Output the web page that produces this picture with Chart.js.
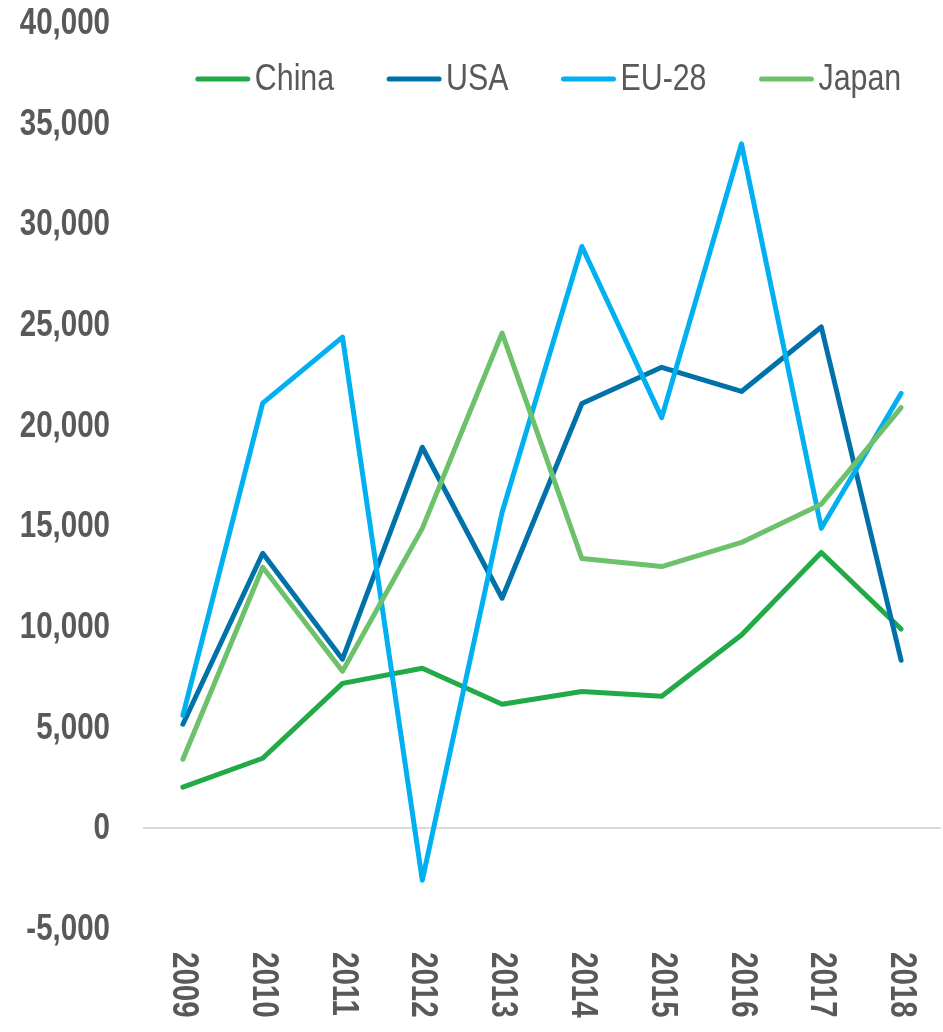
<!DOCTYPE html>
<html>
<head>
<meta charset="utf-8">
<script src="https://cdn.jsdelivr.net/npm/chart.js@4.4.1/dist/chart.umd.min.js"></script>
<style>
	html, body { margin: 0; padding: 0; background: #fff; }
	#wrap { position: relative; width: 943px; height: 1032px; }
</style>
</head>
<body>
<div id="wrap"><canvas id="chart"></canvas></div>
<script>
// data
const years = ['2009', '2010', '2011', '2012', '2013', '2014', '2015', '2016', '2017', '2018'];
const china = [2050, 3480, 7200, 7950, 6160, 6800, 6560, 9600, 13700, 9900];
const usa = [5170, 13660, 8400, 18930, 11430, 21100, 22900, 21700, 24900, 8350];
const eu28 = [5610, 21120, 24400, -2580, 15700, 28900, 20400, 34000, 14900, 21600];
const japan = [3430, 12970, 7800, 14900, 24600, 13400, 13000, 14200, 16100, 20900];
const yMin = -5000;
const yMax = 40000;
const yStep = 5000;

// no narrow font installed, so squeeze Liberation Sans like Arial Narrow
const FONT = "'Liberation Sans', Arial, sans-serif";
const NARROW = 0.82;
const TEXT = '#595959';

function narrowText(ctx, text, x, y, align) {
	ctx.save();
	ctx.translate(x, y);
	ctx.scale(NARROW, 1);
	ctx.textAlign = align;
	ctx.fillText(text, 0, 0);
	ctx.restore();
}

// legend drawn inside the plot, like the original
const legendInPlot = {
	id: 'legendInPlot',
	afterDraw(chart) {
		const ctx = chart.ctx;
		const area = chart.chartArea;
		const markW = 56, gap = 4, itemGap = 52;
		ctx.save();
		ctx.font = '37px ' + FONT;
		ctx.textBaseline = 'middle';
		const items = chart.data.datasets.map(ds => {
			const w = markW + gap + ctx.measureText(ds.label).width * NARROW;
			return { label: ds.label, color: ds.borderColor, w: w };
		});
		const total = items.reduce((s, it) => s + it.w, 0) + itemGap * (items.length - 1);
		let x = (area.left + area.right) / 2 - total / 2 + 6;
		const y = 79;
		items.forEach(it => {
			ctx.strokeStyle = it.color;
			ctx.lineWidth = 5;
			ctx.lineCap = 'round';
			ctx.beginPath();
			ctx.moveTo(x + 3, y);
			ctx.lineTo(x + markW - 3, y);
			ctx.stroke();
			ctx.fillStyle = TEXT;
			narrowText(ctx, it.label, x + markW + gap, y + 1, 'left');
			x += it.w + itemGap;
		});
		ctx.restore();
	}
};

// axis labels: y values right aligned, years read top-to-bottom
const axisLabels = {
	id: 'axisLabels',
	afterDraw(chart) {
		const ctx = chart.ctx;
		const xs = chart.scales.x;
		const ys = chart.scales.y;
		ctx.save();
		ctx.font = 'bold 36px ' + FONT;
		ctx.fillStyle = TEXT;
		ctx.textBaseline = 'middle';
		ys.ticks.forEach(t => {
			const py = ys.getPixelForValue(t.value);
			narrowText(ctx, t.value.toLocaleString('en-US'), chart.chartArea.left - 33, py + 1, 'right');
		});
		years.forEach((lbl, i) => {
			const px = xs.getPixelForTick(i);
			ctx.save();
			ctx.translate(px, chart.chartArea.bottom + 23);
			ctx.rotate(Math.PI / 2);
			narrowText(ctx, lbl, 0, 0, 'left');
			ctx.restore();
		});
		ctx.restore();
	}
};

function line(label, data, color, order) {
	return {
		label: label,
		data: data,
		borderColor: color,
		backgroundColor: color,
		borderWidth: 5,
		pointRadius: 0,
		pointHoverRadius: 0,
		tension: 0,
		fill: false,
		borderCapStyle: 'round',
		borderJoinStyle: 'round',
		order: order
	};
}

new Chart(document.getElementById('chart'), {
	type: 'line',
	data: {
		labels: years,
		datasets: [
			line('China', china, '#21AA47', 4),
			line('USA', usa, '#0072A9', 3),
			line('EU-28', eu28, '#00B0F0', 2),
			line('Japan', japan, '#6CC16A', 1)
		]
	},
	options: {
		responsive: true,
		maintainAspectRatio: false,
		animation: false,
		layout: {
			padding: { top: 23, right: 2, bottom: 0, left: 0 }
		},
		plugins: {
			legend: { display: false },
			tooltip: { enabled: false }
		},
		scales: {
			x: {
				offset: true,
				grid: { display: false },
				border: { display: false },
				ticks: { display: false },
				afterFit: function(scale) {
					scale.height = 103;
				}
			},
			y: {
				min: yMin,
				max: yMax,
				border: { display: false },
				grid: {
					drawTicks: false,
					lineWidth: 2,
					color: function(c) {
						return c.tick && c.tick.value === 0 ? '#D9D9D9' : 'rgba(0,0,0,0)';
					}
				},
				ticks: {
					display: false,
					stepSize: yStep
				},
				afterFit: function(scale) {
					scale.width = 143;
				}
			}
		}
	},
	plugins: [legendInPlot, axisLabels]
});
</script>
</body>
</html>
